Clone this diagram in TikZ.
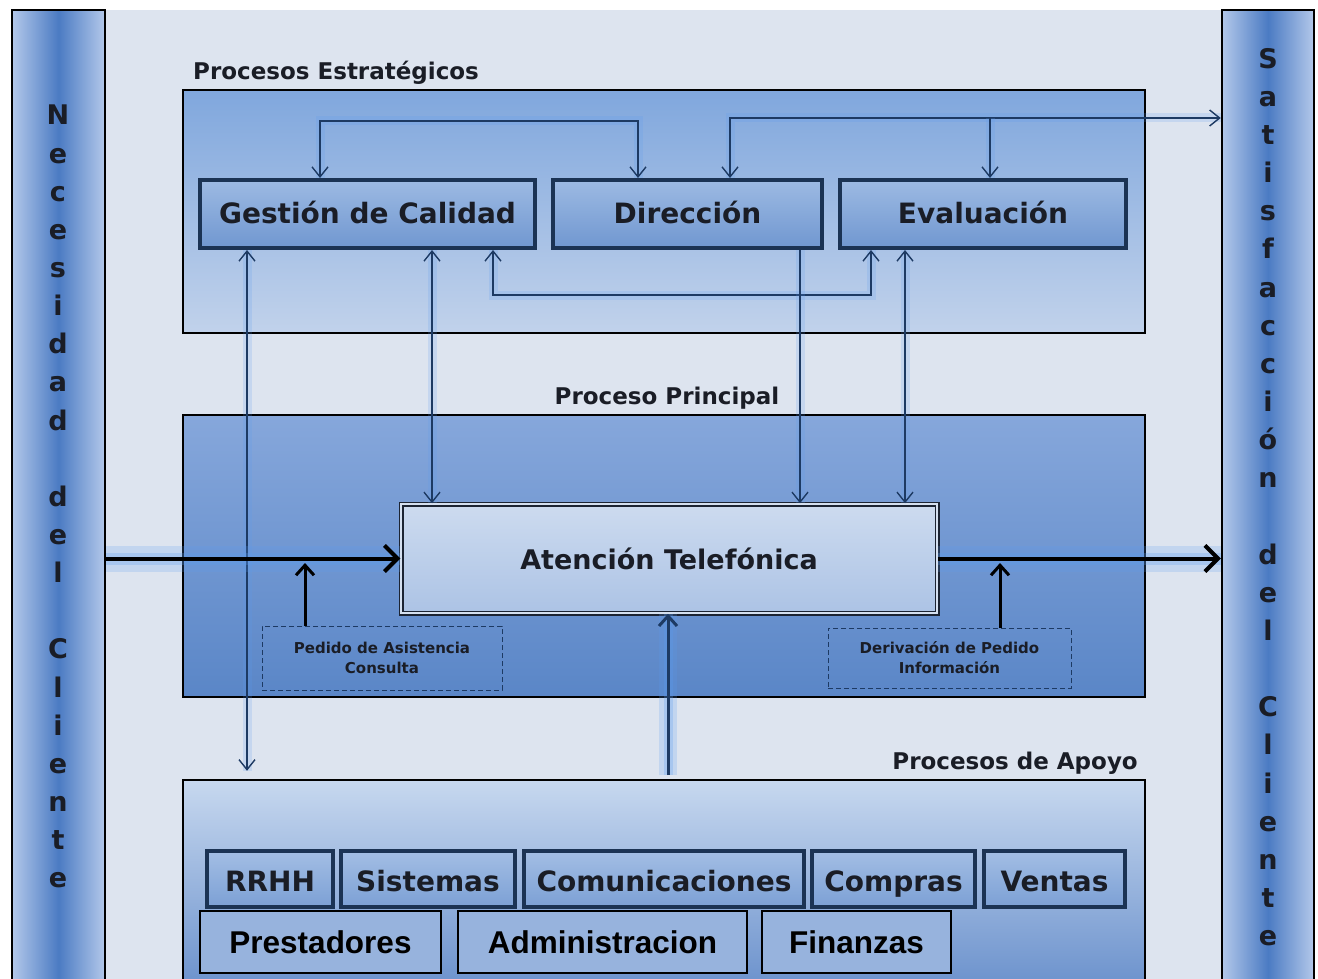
\documentclass[tikz,border=0pt]{standalone}
\usepackage{fontspec}
\setmainfont{DejaVu Sans}
\newfontfamily\arialfont{Liberation Sans}
\usetikzlibrary{arrows.meta,calc,positioning}
\definecolor{page}{HTML}{DDE4EF}
\definecolor{ink}{HTML}{1A1D26}
\definecolor{navy}{HTML}{1B3354}
\definecolor{wire}{HTML}{1D3A63}
\definecolor{glowc}{HTML}{5A9BF0}
\definecolor{barlight}{HTML}{B3C8EA}
\definecolor{barmid}{HTML}{4B7BC3}
\definecolor{stagetop}{HTML}{9DBAE3}
\definecolor{stagebot}{HTML}{7097D0}
\definecolor{supptop}{HTML}{A3BEE4}
\definecolor{suppbot}{HTML}{7CA0D5}
\definecolor{extrafill}{HTML}{97B3DD}
\tikzset{
  bar/.style={draw=black, line width=2.5pt, left color=barlight, right color=barlight, middle color=barmid},
  barlbl/.style={font=\fontsize{27}{38.15}\selectfont\bfseries, text=ink, align=center, inner sep=0pt, anchor=north},
  group/.style={draw=black, line width=2.5pt, inner sep=0pt},
  grouplbl/.style={font=\fontsize{23}{27}\selectfont\bfseries, text=ink, inner sep=0pt},
  stage/.style={draw=navy, line width=4pt, top color=stagetop, bottom color=stagebot,
    font=\fontsize{28}{32}\selectfont\bfseries, text=ink, inner sep=0pt, minimum height=68pt,
    text height=18pt, text depth=0pt},
  supp/.style={draw=navy, line width=4pt, top color=supptop, bottom color=suppbot,
    font=\fontsize{28}{32}\selectfont\bfseries, text=ink, inner sep=0pt, minimum height=56pt,
    text height=24pt, text depth=0pt},
  extra/.style={draw=black, line width=2pt, fill=extrafill, font=\arialfont\fontsize{31.5}{34}\selectfont\bfseries,
    text=black, inner sep=0pt, minimum height=62pt},
  note/.style={draw=wire, dashed, dash pattern=on 5pt off 3pt, line width=1pt, font=\fontsize{15}{20}\selectfont\bfseries,
    text=ink, align=center, inner sep=0pt},
  conn/.style={draw=wire, line width=1.4pt, preaction={draw=glowc, -, line width=9pt, opacity=.18}},
  feed/.style={draw=black, line width=3pt, -{Straight Barb[length=10pt,width=18pt]}},
  mainarrow/.style={draw=black, line width=4pt, -{Straight Barb[length=13pt,width=26pt]},
    preaction={draw=glowc, -, line width=26pt, opacity=.2}, preaction={draw=glowc, -, line width=12pt, opacity=.25}},
  uparrow/.style={draw=wire, line width=3pt, -{Straight Barb[length=10pt,width=18pt]},
    preaction={draw=glowc, -, line width=18pt, opacity=.2}, preaction={draw=glowc, -, line width=9pt, opacity=.25}}
}

\begin{document}
\begin{tikzpicture}[x=1pt,y=-1pt, >={Straight Barb[length=10pt,width=16pt]}]
  \fill[white] (0,0) rectangle (1318,979);
  \fill[page] (105,10) rectangle (1222,979);
  \useasboundingbox (0,0) rectangle (1318,979);

  % side bars
  \node[bar, minimum width=93pt, minimum height=975pt] (need) at (58.5,497.5) {};
  \node[bar, minimum width=92pt, minimum height=975pt] (satis) at (1268,497.5) {};
  \node[barlbl] (needlbl) at (58,105) {N\\e\\c\\e\\s\\i\\d\\a\\d\\~\\d\\e\\l\\~\\C\\l\\i\\e\\n\\t\\e};
  \node[barlbl] (satislbl) at (1268,48) {S\\a\\t\\i\\s\\f\\a\\c\\c\\i\\ó\\n\\~\\d\\e\\l\\~\\C\\l\\i\\e\\n\\t\\e};

  % groups
  \node[group, top color={rgb,255:red,128;green,167;blue,221}, bottom color={rgb,255:red,193;green,210;blue,235},
    minimum width=962pt, minimum height=243pt] (estr) at (664,211.5) {};
  \node[group, top color={rgb,255:red,134;green,167;blue,219}, bottom color={rgb,255:red,90;green,134;blue,199},
    minimum width=962pt, minimum height=282pt] (princ) at (664,556) {};
  \node[group, top color={rgb,255:red,199;green,216;blue,239}, bottom color={rgb,255:red,104;green,143;blue,203},
    minimum width=962pt, minimum height=215pt] (apoyo) at (664,887.5) {};
  \node[grouplbl, anchor=west] (estrlbl) at (193,73) {Procesos Estratégicos};
  \node[grouplbl] (princlbl) at (667,398) {Proceso Principal};
  \node[grouplbl, anchor=east] (apoyolbl) at (1138,763) {Procesos de Apoyo};

  % strategic processes
  \node[stage, minimum width=335pt] (gc) at (367.5,214) {Gestión de Calidad};
  \node[stage, minimum width=269pt] (dir) at (687.5,214) {Dirección};
  \node[stage, minimum width=286pt] (eva) at (983,214) {Evaluación};

  % main process
  \node[draw={rgb,255:red,28;green,36;blue,51}, line width=1.5pt, double={rgb,255:red,213;green,224;blue,240}, double distance=2pt,
    top color={rgb,255:red,205;green,219;blue,239}, bottom color={rgb,255:red,172;green,195;blue,229},
    font=\fontsize{27}{32}\selectfont\bfseries, text=ink, minimum width=536pt, minimum height=109pt] (at) at (669,558.5) {Atención Telefónica};
  \node[note, minimum width=240pt, minimum height=64pt] (ped) at (382,658) {Pedido de Asistencia\\Consulta};
  \node[note, minimum width=243pt, minimum height=60pt] (der) at (949.5,658) {Derivación de Pedido\\Información};

  % support processes
  \node[supp, minimum width=126pt] (rrhh) at (270,879) {RRHH};
  \node[supp, minimum width=174pt] (sis) at (428,879) {Sistemas};
  \node[supp, minimum width=280pt] (com) at (664,879) {Comunicaciones};
  \node[supp, minimum width=163pt] (cpr) at (893.5,879) {Compras};
  \node[supp, minimum width=141pt] (ven) at (1054.5,879) {Ventas};
  \node[extra, minimum width=241pt] (pres) at (320.5,942) {Prestadores};
  \node[extra, minimum width=289pt] (adm) at (602.5,942) {Administracion};
  \node[extra, minimum width=189pt] (fin) at (856.5,942) {Finanzas};

  % connectors between strategic boxes
  \coordinate (gcin) at (320,121);
  \coordinate (dirin) at (638,121);
  \coordinate (dtop) at (730,118);
  \coordinate (etop) at (990,118);
  \coordinate (lb) at (493,295);
  \coordinate (rb) at (871,295);
  \draw[conn,<->] (gcin |- gc.north) -- (gcin) -- (dirin) -- (dirin |- dir.north);
  \draw[conn,<->] (dtop |- dir.north) -- (dtop) -- (satis.west |- dtop);
  \draw[conn,->] (etop) -- (etop |- eva.north);
  \draw[conn,<->] (lb |- gc.south) -- (lb) -- (rb) -- (rb |- eva.south);

  % connectors to the main process
  \coordinate (v1) at (247,0);
  \coordinate (v2) at (432,0);
  \coordinate (v3) at (800,0);
  \coordinate (v4) at (905,0);
  \draw[conn,<->,shorten >=8pt] (gc.south -| v1) -- (apoyo.north -| v1);
  \draw[conn,<->] (gc.south -| v2) -- (at.north -| v2);
  \draw[conn,->] (dir.south -| v3) -- (at.north -| v3);
  \draw[conn,<->] (eva.south -| v4) -- (at.north -| v4);

  % client flow
  \draw[mainarrow] (need.east |- at.west) -- (at.west);
  \draw[mainarrow] (at.east) -- (satis.west |- at.east);
  \coordinate (in1) at (305,563);
  \coordinate (in2) at (1000,563);
  \draw[feed] (ped.north -| in1) -- (in1);
  \draw[feed] (der.north -| in2) -- (in2);
  \coordinate (sup) at (668,775);
  \draw[uparrow] (sup) -- (sup |- at.south);
\end{tikzpicture}
\end{document}
